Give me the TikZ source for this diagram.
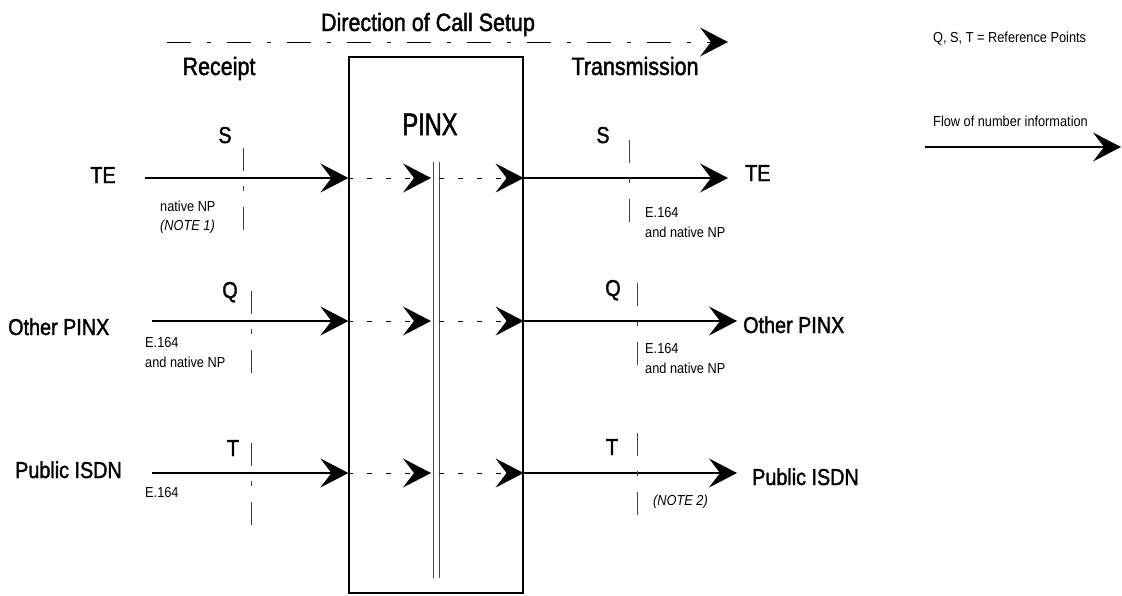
\documentclass[tikz,border=0pt]{standalone}
\usepackage{fontspec}
\setmainfont{Liberation Sans}[FakeStretch=0.88]
\newfontfamily\labelfont{Liberation Sans}[FakeStretch=0.86, FakeBold=1.6]
\newfontfamily\pinxfont{Liberation Sans}[FakeStretch=0.76, FakeBold=1.6]
\usetikzlibrary{arrows.meta}

\tikzset{
  flow/.style={-{Stealth[length=28pt,width=29pt,inset=11pt]}, line width=1.2pt},
  inflow/.style={flow, line width=1pt, dash pattern=on 5pt off 14pt},
  refline/.style={line width=1pt, black!75, dash pattern=on 23pt off 15pt on 5pt off 16pt},
  bigtext/.style={font=\labelfont\fontsize{23}{26}\selectfont, inner sep=0pt, anchor=base},
  midtext/.style={font=\labelfont\fontsize{25}{28}\selectfont, inner sep=0pt, anchor=base},
  smalltext/.style={font=\fontsize{14.5}{17}\selectfont, inner sep=0pt, anchor=base west},
  notetext/.style={smalltext, font=\fontsize{14.5}{17}\selectfont\itshape},
}

\begin{document}
\begin{tikzpicture}[x=1pt, y=-1pt]
  \useasboundingbox (0,0) rectangle (1122,595);

  % PINX box with its internal bus
  \node[draw, line width=1.2pt, minimum width=174pt, minimum height=536pt, inner sep=0pt] (pinx) at (436,325) {};
  \node[font=\pinxfont\fontsize{31}{34}\selectfont, inner sep=0pt, anchor=base] (pinxlbl) at (430,135) {PINX};
  \coordinate (busIn) at (431,0);
  \coordinate (busOut) at (439,0);
  \draw[black!70, line width=0.9pt] (433,162) -- (433,578);
  \draw[black!70, line width=0.9pt] (439,162) -- (439,578);

  % direction of call setup
  \coordinate (dirStart) at (167,42);
  \coordinate (dirEnd) at (728,42);
  \draw[flow, line width=1pt, dash pattern=on 24pt off 16pt on 4pt off 16pt] (dirStart) -- (dirEnd);
  \node[midtext] (dirlbl) at (428,31) {Direction of Call Setup};
  \node[midtext] (receipt) at (219,75) {Receipt};
  \node[midtext] (transm) at (635,75) {Transmission};

  % the three lines through the PINX
  \coordinate (teIn) at (145,178);
  \coordinate (opIn) at (152,321);
  \coordinate (piIn) at (152,473);
  \coordinate (teOut) at (728,178);
  \coordinate (opOut) at (737,321);
  \coordinate (piOut) at (737,473);
  \foreach \r in {te,op,pi} {
    \draw[flow] (\r In) -- (pinx.west |- \r In);
    \draw[inflow] (pinx.west |- \r In) -- (busIn |- \r In);
    \draw[inflow] (busOut |- \r In) -- (pinx.east |- \r In);
    \draw[flow] (pinx.east |- \r In) -- (\r Out);
  }

  % reference points
  \foreach \x/\y in {243/148, 251/291, 251/443, 629/140, 637/283, 637/433}
    \draw[refline] (\x,\y) -- ++(0,83);

  % receipt side
  \node[bigtext] (teL) at (103,183) {TE};
  \node[bigtext] (sL) at (225,143) {S};
  \node[smalltext] (npL) at (160,211) {native NP};
  \node[notetext] (note1) at (160,230) {(NOTE 1)};
  \node[bigtext] (qL) at (230,298) {Q};
  \node[bigtext, anchor=base west] (opL) at (8,335) {Other PINX};
  \node[smalltext] (opE) at (145,347) {E.164};
  \node[smalltext] (opNp) at (145,367) {and native NP};
  \node[bigtext] (tL) at (233,456) {T};
  \node[bigtext, anchor=base west] (piL) at (15,478) {Public ISDN};
  \node[smalltext] (piE) at (145,497) {E.164};

  % transmission side
  \node[bigtext] (sR) at (603,143) {S};
  \node[bigtext, anchor=base west] (teR) at (745,181) {TE};
  \node[smalltext] (teRe) at (645,217) {E.164};
  \node[smalltext] (teRnp) at (645,237) {and native NP};
  \node[bigtext] (qR) at (613,296) {Q};
  \node[bigtext, anchor=base west] (opR) at (743,333) {Other PINX};
  \node[smalltext] (opRe) at (645,353) {E.164};
  \node[smalltext] (opRnp) at (645,373) {and native NP};
  \node[bigtext] (tR) at (612,455) {T};
  \node[bigtext, anchor=base west] (piR) at (752,485) {Public ISDN};
  \node[notetext] (note2) at (653,505) {(NOTE 2)};

  % legend
  \node[smalltext] (legRef) at (933,42) {Q, S, T = Reference Points};
  \node[smalltext] (legFlow) at (933,126) {Flow of number information};
  \coordinate (legA) at (925,147);
  \coordinate (legB) at (1121,147);
  \draw[flow] (legA) -- (legB);
\end{tikzpicture}
\end{document}
